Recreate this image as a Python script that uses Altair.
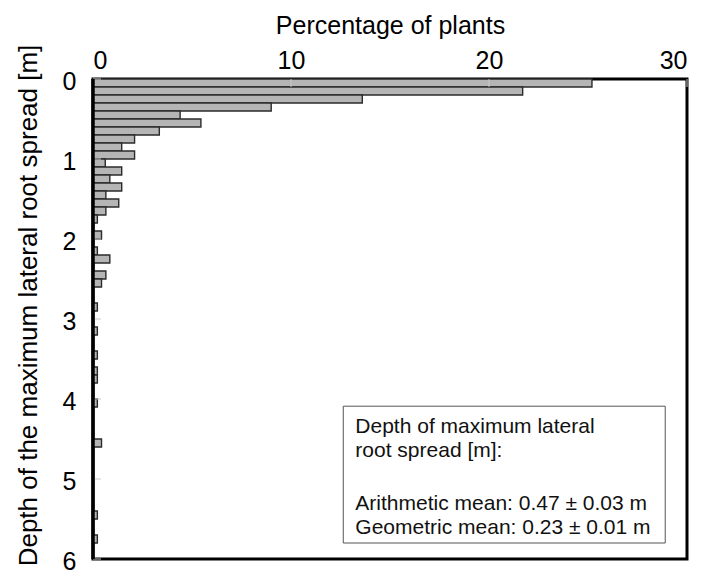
import altair as alt
import pandas as pd

# Upper edge of each 0.1 m depth class that holds plants [m]
depth_top = [0.0, 0.1, 0.2, 0.3, 0.4, 0.5, 0.6, 0.7, 0.8, 0.9,
             1.0, 1.1, 1.2, 1.3, 1.4, 1.5, 1.6, 1.7, 1.9,
             2.1, 2.2, 2.4, 2.5, 2.8, 3.1, 3.4, 3.6, 3.7,
             4.0, 4.5, 5.4, 5.7]
# Percentage of plants in each depth class
pct_plants = [25.2, 21.7, 13.6, 9.0, 4.4, 5.45, 3.35, 2.1, 1.45, 2.1,
              0.62, 1.45, 0.85, 1.45, 0.65, 1.3, 0.65, 0.22, 0.43,
              0.22, 0.85, 0.65, 0.43, 0.22, 0.22, 0.22, 0.22, 0.22,
              0.22, 0.43, 0.22, 0.22]

x_ticks = [0, 10, 20, 30]
y_ticks = [0, 1, 2, 3, 4, 5, 6]

note_head = ["Depth of maximum lateral", "root spread [m]:"]
note_stats = ["Arithmetic mean: 0.47 \u00b1 0.03 m",
              "Geometric mean: 0.23 \u00b1 0.01 m"]

FONT = "Liberation Sans, Arial, Helvetica, sans-serif"

df = pd.DataFrame({"top": depth_top, "pct": pct_plants})

x_scale = alt.Scale(domain=[0, 30], nice=False, zero=True)
y_scale = alt.Scale(domain=[0, 6], nice=False, reverse=True)

bars = (
    alt.Chart(df)
    .transform_calculate(bottom="datum.top + 0.1")
    .mark_bar(fill="#b5b5b5", stroke="#2b2b2b", strokeWidth=1.4)
    .encode(
        x=alt.X(
            "pct:Q",
            scale=x_scale,
            axis=alt.Axis(
                orient="top",
                values=x_ticks,
                format="d",
                title="Percentage of plants",
                labelPadding=6,
                titlePadding=10,
            ),
        ),
        x2=alt.datum(0),
        y=alt.Y(
            "top:Q",
            scale=y_scale,
            axis=alt.Axis(
                values=y_ticks,
                format="d",
                title="Depth of the maximum lateral root spread [m]",
                labelPadding=17,
                labelOffset=2,
                titleX=-57,
                titleY=226,
                titleAngle=270,
                titleAlign="center",
                titleBaseline="alphabetic",
                titleFontSize=26,
            ),
        ),
        y2="bottom:Q",
    )
)

# short light-grey inner tick marks
x_tick_marks = (
    alt.Chart(pd.DataFrame({"v": x_ticks}))
    .mark_rule(color="#c8c8c8", strokeWidth=1)
    .encode(x=alt.X("v:Q", scale=x_scale), y=alt.value(0), y2=alt.value(8))
)
y_tick_marks = (
    alt.Chart(pd.DataFrame({"v": y_ticks}))
    .mark_rule(color="#c8c8c8", strokeWidth=1)
    .encode(y=alt.Y("v:Q", scale=y_scale), x=alt.value(0), x2=alt.value(8))
)

# heavy left frame line drawn over the bar ends
left_frame = (
    alt.Chart(pd.DataFrame({"k": [0]}))
    .mark_rule(color="black", strokeWidth=3.5)
    .encode(x=alt.datum(0), y=alt.value(0), y2=alt.value(480))
)

# summary box
note_box = (
    alt.Chart(pd.DataFrame({"k": [0]}))
    .mark_rect(fill="white", stroke="#555555", strokeWidth=1)
    .encode(
        x=alt.datum(12.64),
        x2=alt.datum(28.9),
        y=alt.datum(4.09),
        y2=alt.datum(5.8),
    )
)
note_style = dict(align="left", baseline="alphabetic", font=FONT,
                  fontSize=21, lineHeight=24, color="#111111")
note_text_head = (
    alt.Chart(pd.DataFrame({"k": [0]}))
    .mark_text(text=note_head, **note_style)
    .encode(x=alt.datum(13.25), y=alt.datum(4.43))
)
note_text_stats = (
    alt.Chart(pd.DataFrame({"k": [0]}))
    .mark_text(text=note_stats, **note_style)
    .encode(x=alt.datum(13.25), y=alt.datum(5.39))
)

chart = (
    alt.layer(bars, x_tick_marks, y_tick_marks, left_frame,
              note_box, note_text_head, note_text_stats)
    .properties(
        width=594,
        height=480,
        autosize=alt.AutoSizeParams(type="none"),
        padding={"left": 93, "top": 79, "right": 15, "bottom": 14},
        background="white",
    )
    .configure_view(stroke="black", strokeWidth=3)
    .configure_axis(
        domain=False,
        ticks=False,
        tickSize=0,
        grid=False,
        labelFont=FONT,
        titleFont=FONT,
        labelFontSize=25,
        titleFontSize=25,
        titleFontWeight="normal",
        labelColor="black",
        titleColor="black",
    )
)

chart.save("out.html", embed_options={"renderer": "svg", "actions": False})
